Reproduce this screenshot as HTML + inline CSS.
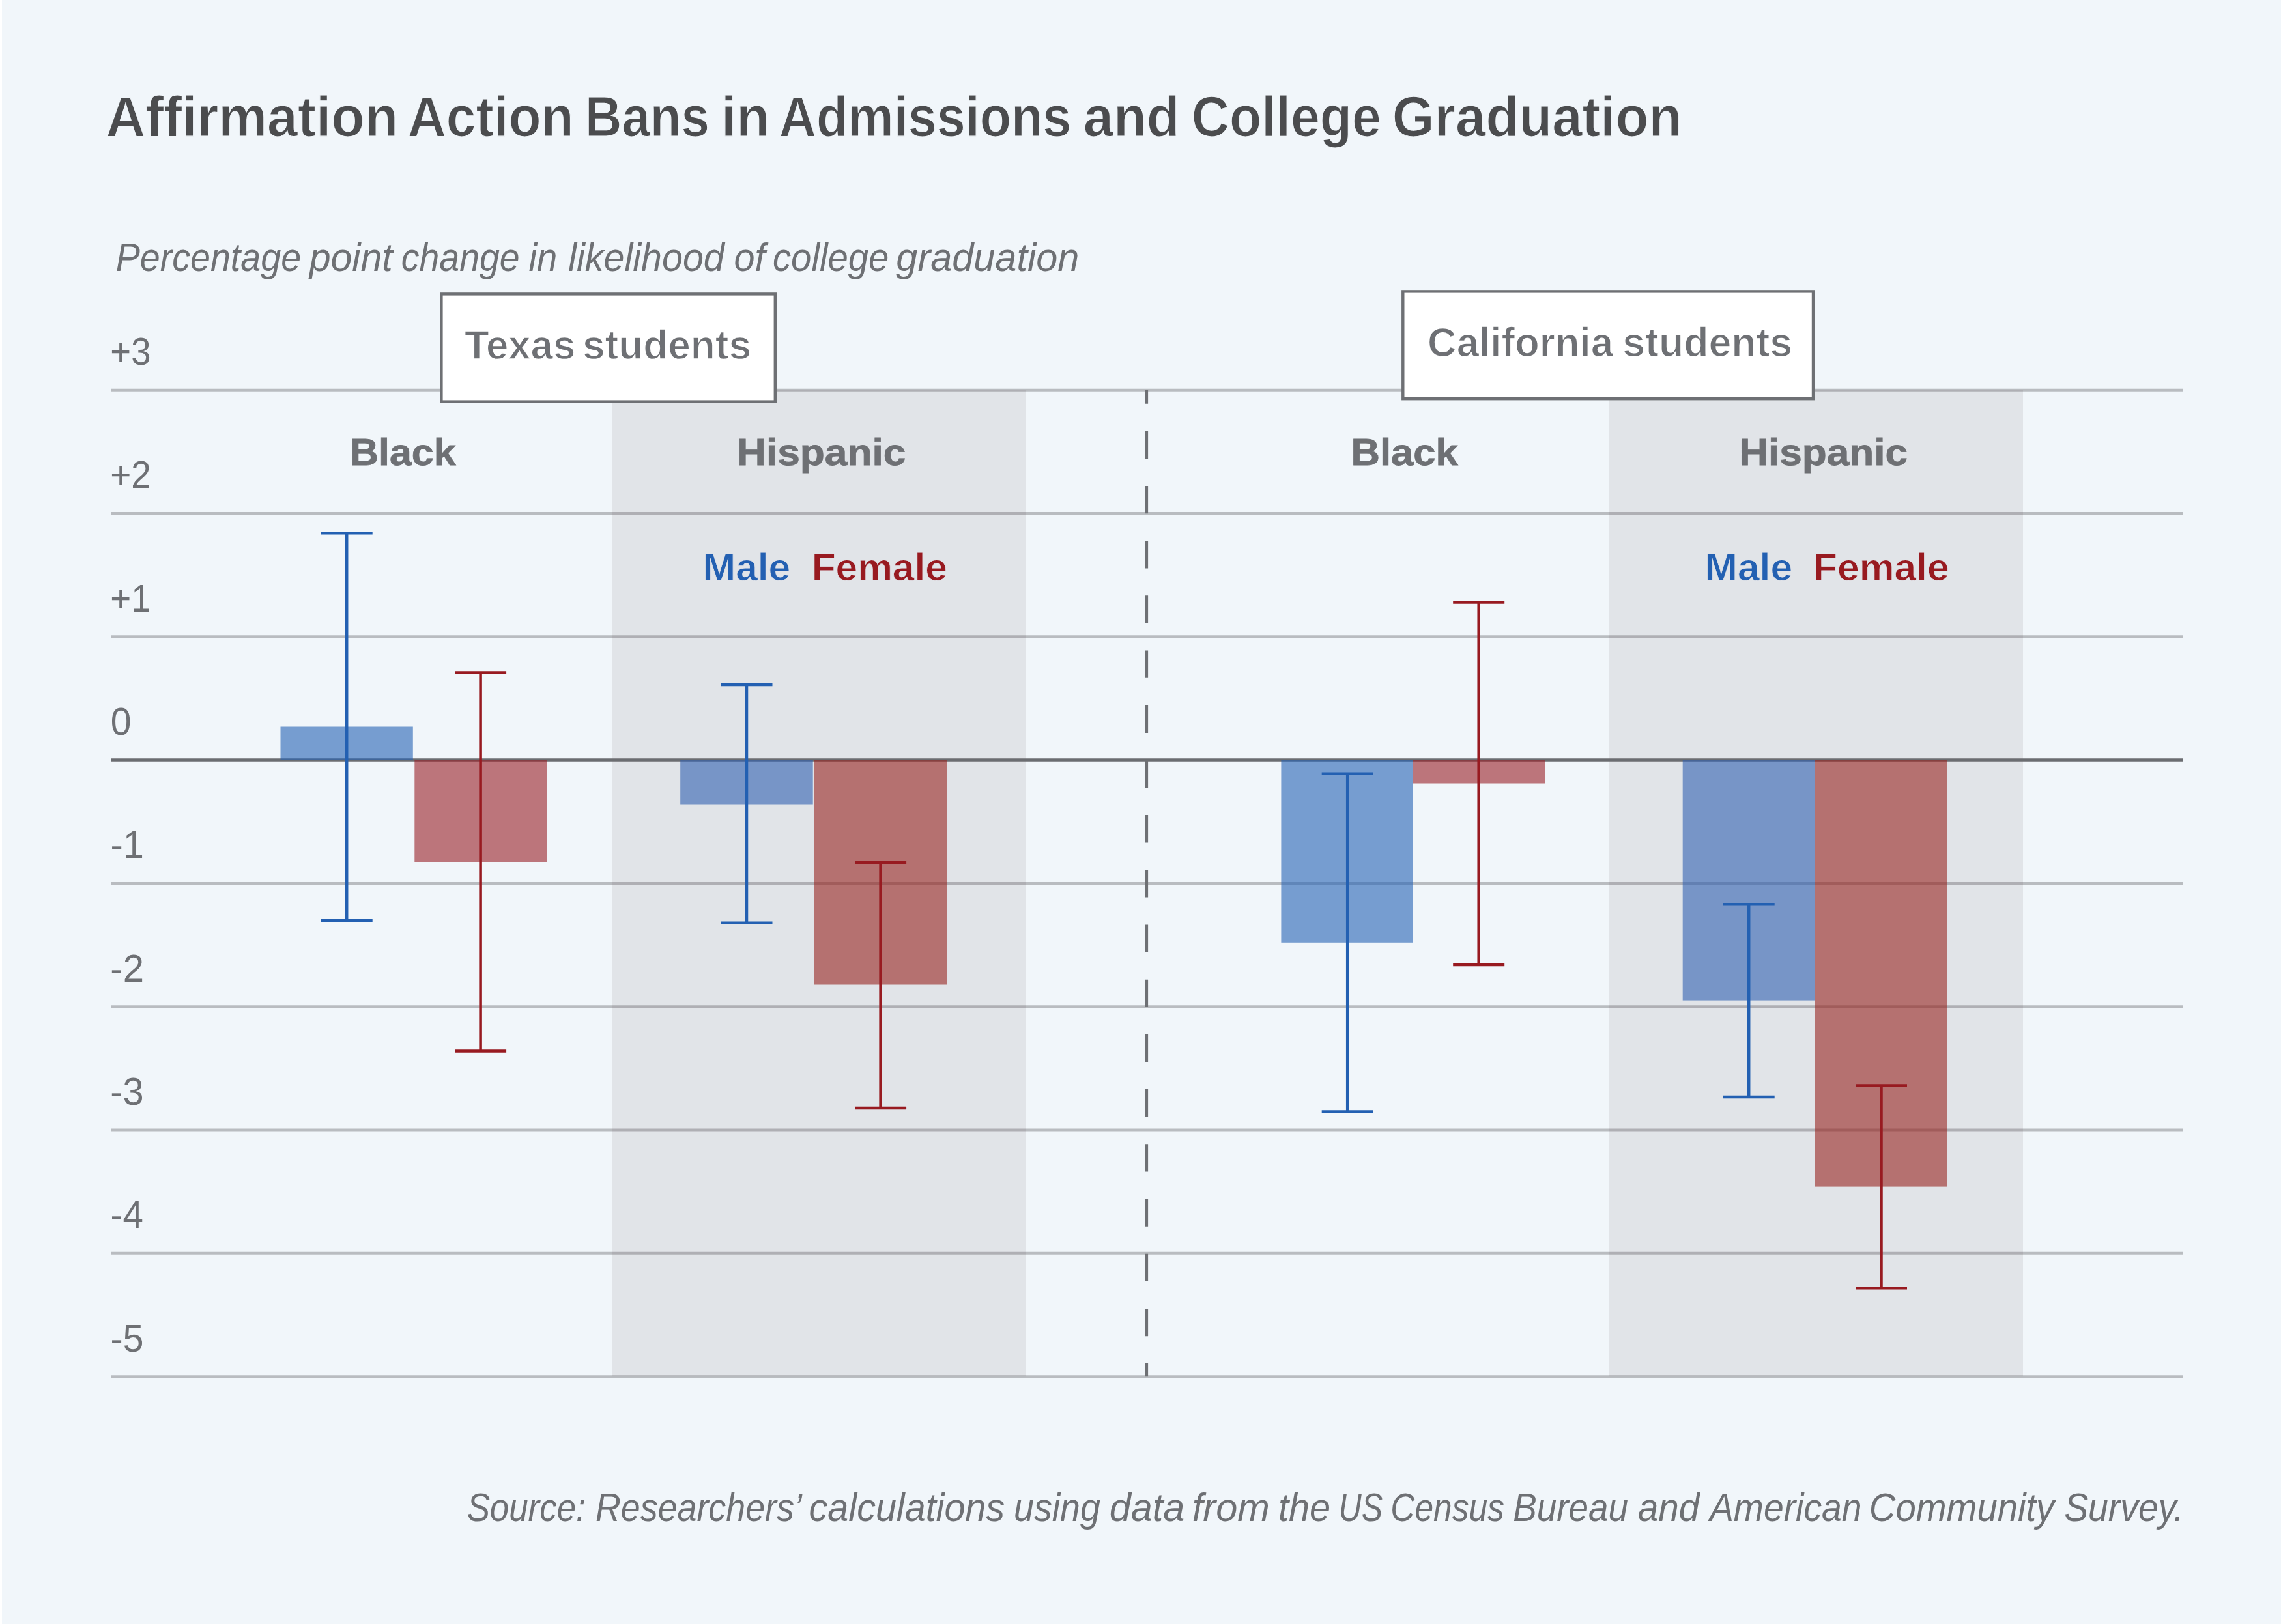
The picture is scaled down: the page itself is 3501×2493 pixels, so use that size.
<!DOCTYPE html>
<html lang="en"><head><meta charset="utf-8"><title>Affirmation Action Bans in Admissions and College Graduation</title>
<style>
html,body{margin:0;padding:0;background:#F1F6FA;}
body{width:3501px;height:2493px;overflow:hidden;position:relative;}
svg{display:block;position:absolute;left:0;top:0;}
text{font-family:"Liberation Sans",sans-serif;white-space:pre;}
.b{font-weight:bold;}
.i{font-style:italic;}
</style></head><body>
<svg width="3501" height="2493" viewBox="0 0 3501 2493">
<rect x="0" y="0" width="3501" height="2493" fill="#F1F6FA"/>
<rect x="0" y="0" width="3" height="2493" fill="#FFFFFF"/>
<g id="grid" stroke="#B9BCC0" stroke-width="4">
<line x1="170.3" y1="598.75" x2="3350.0" y2="598.75"/>
<line x1="170.3" y1="788.05" x2="3350.0" y2="788.05"/>
<line x1="170.3" y1="977.35" x2="3350.0" y2="977.35"/>
<line x1="170.3" y1="1355.95" x2="3350.0" y2="1355.95"/>
<line x1="170.3" y1="1545.25" x2="3350.0" y2="1545.25"/>
<line x1="170.3" y1="1734.55" x2="3350.0" y2="1734.55"/>
<line x1="170.3" y1="1923.85" x2="3350.0" y2="1923.85"/>
<line x1="170.3" y1="2113.15" x2="3350.0" y2="2113.15"/>
</g>
<g id="shade" fill="rgba(91,66,80,0.1)">
<rect x="940" y="598.75" width="634.3" height="1514.40"/>
<rect x="2469.7" y="598.75" width="635.3" height="1514.40"/>
</g>
<line x1="170.3" y1="1166.55" x2="3350.0" y2="1166.55" stroke="#6B6D71" stroke-width="4.5"/>
<g id="bars">
<rect x="430.5" y="1115.5" width="203.3" height="51.2" fill="rgba(36,98,180,0.6)"/>
<rect x="636.3" y="1166.7" width="203.3" height="157.1" fill="rgba(154,31,38,0.6)"/>
<rect x="1044.2" y="1166.7" width="203.5" height="67.8" fill="rgba(49,96,176,0.6)"/>
<rect x="1250.0" y="1166.7" width="203.6" height="344.8" fill="rgba(151,36,31,0.6)"/>
<rect x="1966.4" y="1166.7" width="202.6" height="280.1" fill="rgba(36,98,180,0.6)"/>
<rect x="2168.2" y="1166.7" width="203.1" height="35.8" fill="rgba(154,31,38,0.6)"/>
<rect x="2582.7" y="1166.7" width="203.1" height="368.9" fill="rgba(49,96,176,0.6)"/>
<rect x="2785.8" y="1166.7" width="203.2" height="654.9" fill="rgba(151,36,31,0.6)"/>
</g>
<line x1="1760" y1="598.6" x2="1760" y2="2113.2" stroke="#6E7074" stroke-width="4.2" stroke-dasharray="42.3 41.9" stroke-dashoffset="21.1"/>
<g id="err" fill="none" stroke-width="4.5">
<path d="M492.7 818.3H571.7M492.7 1413.0H571.7M532.2 818.3V1413.0" stroke="#2360B2"/>
<path d="M698.1 1032.5H777.1M698.1 1613.6H777.1M737.6 1032.5V1613.6" stroke="#981A20"/>
<path d="M1106.5 1051.1H1185.5M1106.5 1416.7H1185.5M1146.0 1051.1V1416.7" stroke="#2360B2"/>
<path d="M1312.1 1324.3H1391.1M1312.1 1700.9H1391.1M1351.6 1324.3V1700.9" stroke="#981A20"/>
<path d="M2028.7 1187.7H2107.7M2028.7 1706.6H2107.7M2068.2 1187.7V1706.6" stroke="#2360B2"/>
<path d="M2230.2 924.4H2309.2M2230.2 1481.0H2309.2M2269.7 924.4V1481.0" stroke="#981A20"/>
<path d="M2644.7 1388.3H2723.7M2644.7 1683.9H2723.7M2684.2 1388.3V1683.9" stroke="#2360B2"/>
<path d="M2848.0 1666.6H2927.0M2848.0 1977.3H2927.0M2887.5 1666.6V1977.3" stroke="#981A20"/>
</g>
<rect x="677.40" y="451.40" width="512.40" height="165.20" fill="#FFFFFF" stroke="#6E7074" stroke-width="4.4"/>
<rect x="2153.30" y="447.40" width="629.70" height="164.80" fill="#FFFFFF" stroke="#6E7074" stroke-width="4.4"/>
<text y="209" font-size="86.5" class="b" fill="#4B4C4E" stroke="#F1F6FA" stroke-width="1.2"><tspan x="162.47" textLength="448.54" lengthAdjust="spacingAndGlyphs">Affirmation</tspan> <tspan x="625.73" textLength="254.80" lengthAdjust="spacingAndGlyphs">Action</tspan> <tspan x="898.07" textLength="190.79" lengthAdjust="spacingAndGlyphs">Bans</tspan> <tspan x="1107.01" textLength="74.17" lengthAdjust="spacingAndGlyphs">in</tspan> <tspan x="1195.78" textLength="448.61" lengthAdjust="spacingAndGlyphs">Admissions</tspan> <tspan x="1662.66" textLength="147.94" lengthAdjust="spacingAndGlyphs">and</tspan> <tspan x="1828.77" textLength="291.09" lengthAdjust="spacingAndGlyphs">College</tspan> <tspan x="2136.75" textLength="444.60" lengthAdjust="spacingAndGlyphs">Graduation</tspan></text>
<text y="416" font-size="60.8" class="i" fill="#6E7074"><tspan x="177.66" textLength="284.46" lengthAdjust="spacingAndGlyphs">Percentage</tspan> <tspan x="474.71" textLength="127.96" lengthAdjust="spacingAndGlyphs">point</tspan> <tspan x="615.87" textLength="181.77" lengthAdjust="spacingAndGlyphs">change</tspan> <tspan x="811.43" textLength="43.77" lengthAdjust="spacingAndGlyphs">in</tspan> <tspan x="872.27" textLength="239.54" lengthAdjust="spacingAndGlyphs">likelihood</tspan> <tspan x="1126.40" textLength="47.98" lengthAdjust="spacingAndGlyphs">of</tspan> <tspan x="1185.96" textLength="178.38" lengthAdjust="spacingAndGlyphs">college</tspan> <tspan x="1375.32" textLength="280.99" lengthAdjust="spacingAndGlyphs">graduation</tspan></text>
<text y="2335" font-size="61" class="i" fill="#6E7074"><tspan x="716.63" textLength="182.07" lengthAdjust="spacingAndGlyphs">Source:</tspan> <tspan x="913.99" textLength="313.88" lengthAdjust="spacingAndGlyphs">Researchers’</tspan> <tspan x="1241.61" textLength="300.51" lengthAdjust="spacingAndGlyphs">calculations</tspan> <tspan x="1555.97" textLength="132.93" lengthAdjust="spacingAndGlyphs">using</tspan> <tspan x="1702.67" textLength="115.77" lengthAdjust="spacingAndGlyphs">data</tspan> <tspan x="1829.82" textLength="119.06" lengthAdjust="spacingAndGlyphs">from</tspan> <tspan x="1961.95" textLength="80.31" lengthAdjust="spacingAndGlyphs">the</tspan> <tspan x="2054.80" textLength="67.32" lengthAdjust="spacingAndGlyphs">US</tspan> <tspan x="2134.18" textLength="174.70" lengthAdjust="spacingAndGlyphs">Census</tspan> <tspan x="2322.19" textLength="176.66" lengthAdjust="spacingAndGlyphs">Bureau</tspan> <tspan x="2513.80" textLength="94.62" lengthAdjust="spacingAndGlyphs">and</tspan> <tspan x="2623.94" textLength="233.68" lengthAdjust="spacingAndGlyphs">American</tspan> <tspan x="2868.80" textLength="284.46" lengthAdjust="spacingAndGlyphs">Community</tspan> <tspan x="3168.18" textLength="183.50" lengthAdjust="spacingAndGlyphs">Survey.</tspan></text>
<text y="551" font-size="62.2" class="b" fill="#6E7074" stroke="#FFFFFF" stroke-width="1.3"><tspan x="712.89" textLength="170.31" lengthAdjust="spacingAndGlyphs">Texas</tspan> <tspan x="894.03" textLength="259.01" lengthAdjust="spacingAndGlyphs">students</tspan></text>
<text y="547" font-size="62.8" class="b" fill="#6E7074" stroke="#FFFFFF" stroke-width="1.3"><tspan x="2191.08" textLength="284.93" lengthAdjust="spacingAndGlyphs">California</tspan> <tspan x="2490.25" textLength="260.96" lengthAdjust="spacingAndGlyphs">students</tspan></text>
<text y="714" font-size="57.7" class="b" fill="#6E7074" stroke="#6E7074" stroke-width="0.8"><tspan x="537.09" textLength="162.44" lengthAdjust="spacingAndGlyphs">Black</tspan></text>
<text y="714" font-size="57.7" class="b" fill="#6E7074" stroke="#6E7074" stroke-width="0.8"><tspan x="1130.95" textLength="259.45" lengthAdjust="spacingAndGlyphs">Hispanic</tspan></text>
<text y="714" font-size="57.7" class="b" fill="#6E7074" stroke="#6E7074" stroke-width="0.8"><tspan x="2073.55" textLength="164.24" lengthAdjust="spacingAndGlyphs">Black</tspan></text>
<text y="714" font-size="57.7" class="b" fill="#6E7074" stroke="#6E7074" stroke-width="0.8"><tspan x="2669.19" textLength="258.94" lengthAdjust="spacingAndGlyphs">Hispanic</tspan></text>
<text y="891" font-size="59.7" class="b" fill="#2360B2" stroke="#E1E3E8" stroke-width="0.8"><tspan x="1078.74" textLength="134.53" lengthAdjust="spacingAndGlyphs">Male</tspan></text>
<text y="891" font-size="59.7" class="b" fill="#981A20" stroke="#E1E3E8" stroke-width="0.8"><tspan x="1245.65" textLength="208.22" lengthAdjust="spacingAndGlyphs">Female</tspan></text>
<text y="891" font-size="59.7" class="b" fill="#2360B2" stroke="#E1E3E8" stroke-width="0.8"><tspan x="2616.56" textLength="134.53" lengthAdjust="spacingAndGlyphs">Male</tspan></text>
<text y="891" font-size="59.7" class="b" fill="#981A20" stroke="#E1E3E8" stroke-width="0.8"><tspan x="2783.04" textLength="208.54" lengthAdjust="spacingAndGlyphs">Female</tspan></text>
<text y="560" font-size="58.9" fill="#6E7074"><tspan x="169.36" textLength="62.13" lengthAdjust="spacingAndGlyphs">+3</tspan></text>
<text y="749" font-size="58.9" fill="#6E7074"><tspan x="169.24" textLength="62.54" lengthAdjust="spacingAndGlyphs">+2</tspan></text>
<text y="939" font-size="58.9" fill="#6E7074"><tspan x="169.28" textLength="62.35" lengthAdjust="spacingAndGlyphs">+1</tspan></text>
<text y="1128" font-size="58.9" fill="#6E7074"><tspan x="169.66" textLength="31.79" lengthAdjust="spacingAndGlyphs">0</tspan></text>
<text y="1317" font-size="58.9" fill="#6E7074"><tspan x="169.41" textLength="51.35" lengthAdjust="spacingAndGlyphs">-1</tspan></text>
<text y="1507" font-size="58.9" fill="#6E7074"><tspan x="169.34" textLength="51.60" lengthAdjust="spacingAndGlyphs">-2</tspan></text>
<text y="1696" font-size="58.9" fill="#6E7074"><tspan x="169.35" textLength="51.34" lengthAdjust="spacingAndGlyphs">-3</tspan></text>
<text y="1885" font-size="58.9" fill="#6E7074"><tspan x="169.60" textLength="50.17" lengthAdjust="spacingAndGlyphs">-4</tspan></text>
<text y="2075" font-size="58.9" fill="#6E7074"><tspan x="169.44" textLength="51.09" lengthAdjust="spacingAndGlyphs">-5</tspan></text>
</svg></body></html>
